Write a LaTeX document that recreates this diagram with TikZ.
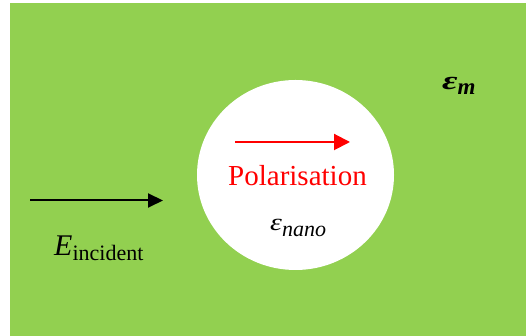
\RequirePackage{fix-cm}
\documentclass[tikz,border=0pt]{standalone}
\usepackage{fontspec}
\setmainfont{Liberation Serif}
\newfontfamily\tnr{Liberation Serif}
\usetikzlibrary{arrows.meta,shapes.geometric}
\definecolor{bggreen}{HTML}{92D050}
\definecolor{polred}{HTML}{FF0000}
\tikzset{
  lbl/.style={inner sep=0pt, anchor=base west, font=\tnr},
  fieldarrow/.style={line width=2pt, -{Triangle[length=15pt,width=14pt]}},
  polarrow/.style={line width=2pt, polred, -{Triangle[length=16pt,width=16pt]}}
}
\begin{document}
\begin{tikzpicture}[x=1pt,y=1pt]
\useasboundingbox (0,0) rectangle (526,336);
\fill[bggreen] (10,0) rectangle (526,333);
\node[draw=none, fill=white, ellipse, minimum width=197pt, minimum height=190pt, inner sep=0pt] (nano) at (295.5,161) {};
\coordinate (ein) at (30,135.5);
\coordinate (eout) at (163,135.5);
\draw[fieldarrow] (ein) -- (eout);
\coordinate (pin) at (235,194);
\coordinate (pout) at (350,194);
\draw[polarrow] (pin) -- (pout);
\node[lbl, text=polred] (pol) at (228,150) {\fontsize{29}{34}\selectfont Polarisation};
\node[lbl] (einc) at (54,80) {\fontsize{30}{36}\selectfont\itshape E\raisebox{-5pt}{\fontsize{22}{26}\selectfont\upshape incident}};
\node[lbl] (enano) at (270,105) {\itshape\scalebox{1.25}[1]{\fontsize{24}{30}\selectfont ε}\raisebox{-6pt}{\fontsize{22}{24}\selectfont nano}};
\node[lbl] (em) at (442,246) {\bfseries\itshape\scalebox{1.45}[1]{\fontsize{26}{32}\selectfont ε}\raisebox{-5pt}{\fontsize{23}{26}\selectfont m}};
\end{tikzpicture}
\end{document}
